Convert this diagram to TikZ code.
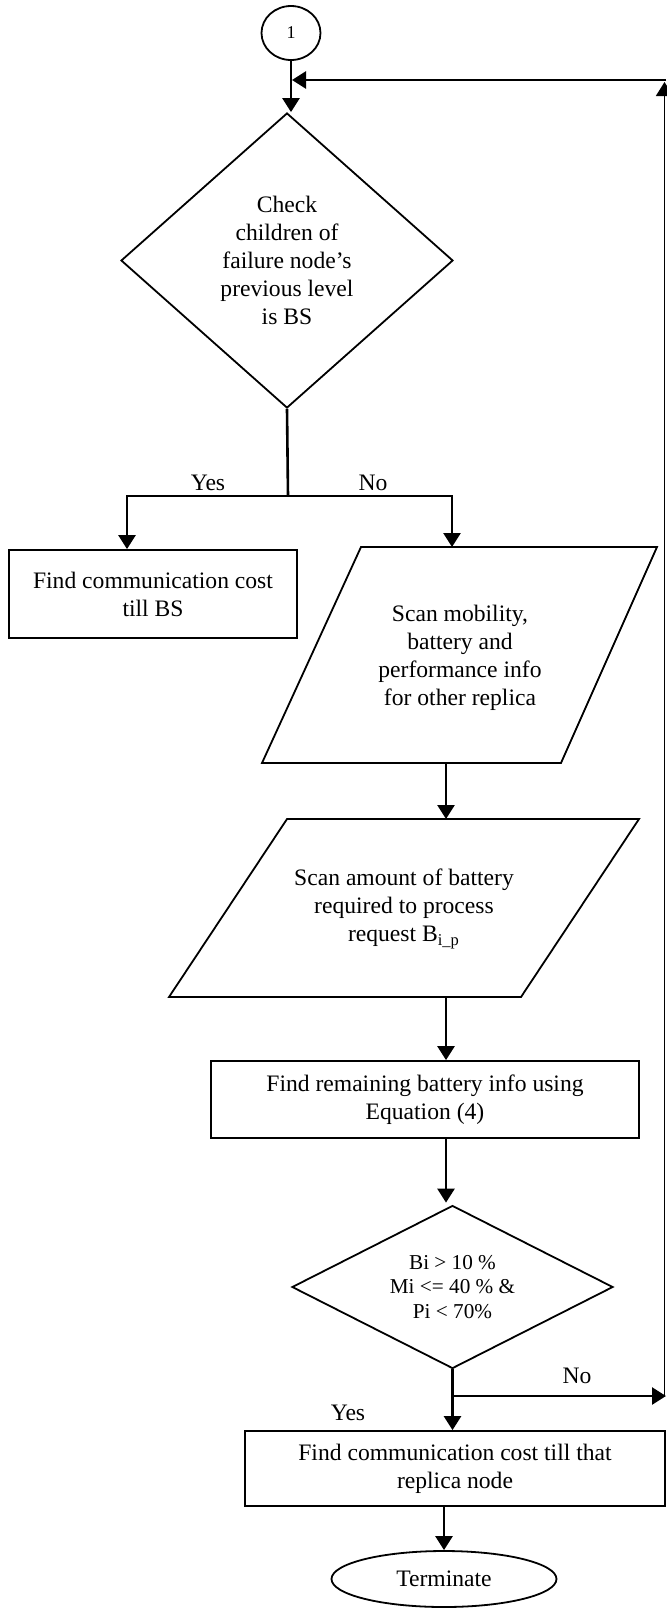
\documentclass[tikz,border=0pt]{standalone}
\usepackage{fontspec}
\setmainfont{Liberation Serif}
\usetikzlibrary{shapes.geometric,arrows.meta}
\begin{document}
\begin{tikzpicture}[x=0.5pt,y=-0.5pt,
  font=\fontsize{11.8}{14}\selectfont,
  shp/.style={draw,line width=0.9pt},
  box/.style={shp,rectangle,align=center,inner sep=0pt},
  dia/.style={shp,diamond,align=center,inner sep=0pt},
  oval/.style={shp,ellipse,inner sep=0pt},
  arr/.style={line width=1.3pt,-{Triangle[length=7pt,width=8.5pt]}},
  ln/.style={line width=1.3pt},
  lbl/.style={inner sep=0pt,align=center}]
\useasboundingbox (0,0) rectangle (666,1608);

% nodes
\node[oval,minimum width=29.5pt,minimum height=27pt,font=\fontsize{9}{10}\selectfont] (c1) at (291,33) {1};
\node[dia,aspect=1,minimum width=166pt,minimum height=147.5pt] (d1) at (287,260.5)
  {Check\\children of\\failure node’s\\previous level\\is BS};
\node[box,minimum width=144pt,minimum height=44pt] (b1) at (153,594)
  {Find communication cost\\till BS};

% parallelogram 1
\draw[shp] (361,547) -- (657,547) -- (561,763) -- (262,763) -- cycle;
\node[lbl] (p1) at (460,658) {Scan mobility,\\battery and\\performance info\\for other replica};
\coordinate (p1n) at (452,547);
\coordinate (p1s) at (446,763);

% parallelogram 2
\draw[shp] (287,819) -- (639,819) -- (521,997) -- (169,997) -- cycle;
\node[lbl] (p2) at (404,909) {Scan amount of battery\\required to process\\request B\textsubscript{i\_p}};
\coordinate (p2n) at (446,819);
\coordinate (p2s) at (446,997);

\node[box,minimum width=214pt,minimum height=38.5pt] (b3) at (425,1099.5)
  {Find remaining battery info using\\Equation (4)};
\node[dia,aspect=2,minimum width=160.5pt,minimum height=81.5pt,font=\fontsize{10.6}{12.2}\selectfont] (d2) at (452.5,1287)
  {Bi > 10 \%\\Mi <= 40 \% \&\\Pi < 70\%};
\node[box,minimum width=210pt,minimum height=37.5pt] (b4) at (455,1468.5)
  {Find communication cost till that\\replica node};
\node[oval,minimum width=112.5pt,minimum height=28pt] (e) at (444,1579) {Terminate};

% labels
\node[lbl] (yes1) at (208,483) {Yes};
\node[lbl] (no1) at (373,483) {No};
\node[lbl] (no2) at (577,1376) {No};
\node[lbl] (yes2) at (348,1413) {Yes};

% junction coordinates
\coordinate (j1) at (292,80);
\coordinate (s1) at (288,496);
\coordinate (k) at (452.5,1396);
\coordinate (r0) at (666,1396);
\coordinate (r1) at (664.5,1396);
\coordinate (r2) at (664.5,82);
\coordinate (r3) at (666,80);

% connectors
\draw[arr] (c1.south) -- (c1.south |- d1.north);
\draw[ln] (d1.south) -- (s1);
\draw[arr] (s1) -| ([xshift=-13pt]b1.north);
\draw[arr] (s1) -| (p1n);
\draw[arr] (p1s) -- (p2n);
\draw[arr] (p2s) -- (b3.north -| p2s);
\draw[arr] (b3.south -| p2s) -- ([yshift=1pt]d2.north -| p2s);
\draw[ln] (d2.south) -- (k);
\draw[arr] (k) -- (b4.north -| k);
\draw[arr] (k) -- (r0);
\draw[arr,line width=0.8pt] (r1) -- (r2);
\draw[arr] (r3) -- (j1);
\draw[arr] (b4.south -| e.north) -- (e.north);
\end{tikzpicture}
\end{document}
